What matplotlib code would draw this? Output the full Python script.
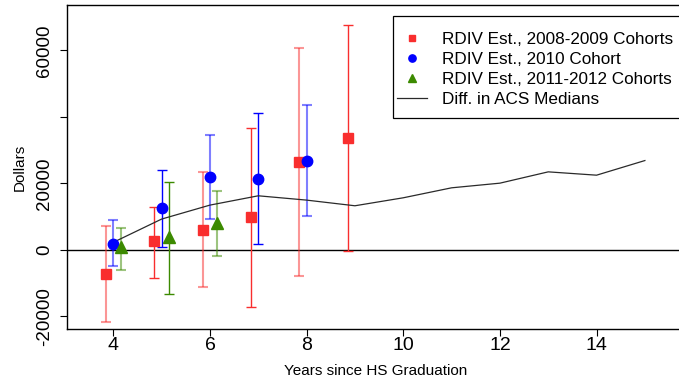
import matplotlib
matplotlib.use("Agg")
import matplotlib.pyplot as plt
from matplotlib.patches import Rectangle
import numpy as np

plt.rcParams['font.family'] = ['Liberation Sans', 'DejaVu Sans']

# RDIV estimates, 2008-2009 cohorts
yrs_a = [4, 5, 6, 7, 8, 9]
est_a = [-7200, 2600, 6100, 10000, 26500, 33700]
lo_a = [-21800, -8300, -11100, -17000, -7800, -200]
hi_a = [7300, 13000, 23600, 36700, 60700, 67600]

# RDIV estimates, 2010 cohort
yrs_b = [4, 5, 6, 7, 8]
est_b = [1900, 12500, 22000, 21500, 26900]
lo_b = [-4900, 900, 9400, 1700, 10100]
hi_b = [9100, 24200, 34700, 41300, 43500]

# RDIV estimates, 2011-2012 cohorts
yrs_c = [4, 5, 6]
est_c = [800, 3900, 8200]
lo_c = [-5900, -13300, -1900]
hi_c = [6700, 20500, 17800]

# difference in ACS medians
acs_yrs = [4, 5, 6, 7, 8, 9, 10, 11, 12, 13, 14, 15]
acs_diff = [2300, 9300, 13500, 16300, 15000, 13300, 15700, 18700, 20100, 23500, 22500, 26900]

red = '#F92E2E'
blue = '#0000FF'
green = '#3C8A00'

fig = plt.figure(figsize=(6.79, 3.81), dpi=100)
ax = fig.add_axes([67/679, 1-329/381, (685-67)/679, (329-5)/381])

ax.axhline(0, color='black', lw=1.0, zorder=1)

def draw(yrs, est, lo, hi, off, col, mk, ms, lab):
    for yr, e, l, h in zip(yrs, est, lo, hi):
        # even years render lighter (anti-aliased) in the original
        if yr % 2 == 0:
            a, w = 0.5, 1.5
        else:
            a, w = 1.0, 1.0
        ax.errorbar([yr + off], [e], yerr=[[e - l], [h - e]], fmt='none',
                    ecolor=col, elinewidth=w, capsize=3.5, capthick=w,
                    alpha=a, zorder=2)
    ax.plot(np.array(yrs) + off, est, linestyle='none', marker=mk, ms=ms,
            color=col, mec=col, label=lab, zorder=4)

draw(yrs_a, est_a, lo_a, hi_a, -0.15, red, 's', 7, 'RDIV Est., 2008-2009 Cohorts')
draw(yrs_b, est_b, lo_b, hi_b, 0.0, blue, 'o', 7.5, 'RDIV Est., 2010 Cohort')
draw(yrs_c, est_c, lo_c, hi_c, 0.15, green, '^', 8, 'RDIV Est., 2011-2012 Cohorts')

ax.plot(acs_yrs, acs_diff, color='#2a2a2a', lw=0.9, label='Diff. in ACS Medians', zorder=3)

ax.set_xlim(3.042, 15.83)
ax.set_ylim(-23760, 73680)
ax.set_xticks([4, 6, 8, 10, 12, 14])
ax.set_yticks([-20000, 0, 20000, 40000, 60000])
ax.set_yticklabels(['-20000', '0', '20000', '', '60000'], rotation=90, va='center')
ax.tick_params(axis='x', labelsize=14, length=5, width=0.8, pad=1)
ax.tick_params(axis='y', labelsize=13.5, length=5, width=0.8, pad=5)
for s in ax.spines.values():
    s.set_linewidth(1.0)

ax.set_xlabel('Years since HS Graduation', fontsize=11, labelpad=7)
ax.set_ylabel('Dollars', fontsize=11, labelpad=7)

# legend box
box = Rectangle((393/679, 1-118/381), (700-393)/679, (118-16)/381,
                transform=fig.transFigure, facecolor='white', edgecolor='black',
                lw=0.9, zorder=5, clip_on=False)
ax.add_patch(box)

leg = ax.legend(loc='upper left', bbox_to_anchor=(397/679, 1-32/381),
                bbox_transform=fig.transFigure, borderaxespad=0, fontsize=12.3,
                frameon=False, handlelength=1.76, handletextpad=0.85,
                labelspacing=0.3, borderpad=0, markerscale=0.7)
leg.set_zorder(6)

fig.savefig('out.png', dpi=100)
